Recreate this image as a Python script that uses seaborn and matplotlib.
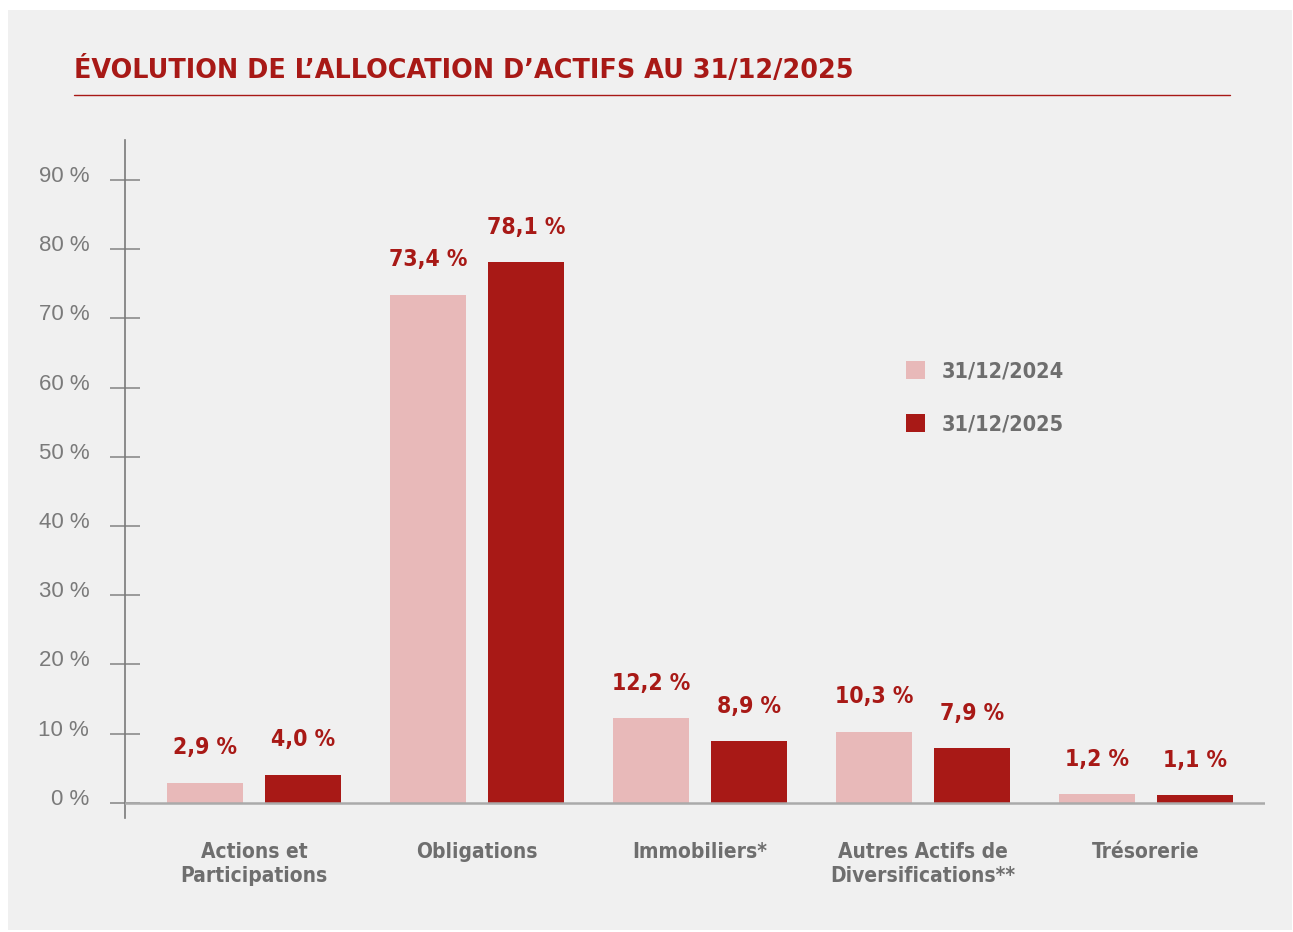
import matplotlib
matplotlib.use("Agg")
import matplotlib.pyplot as plt
import seaborn as sns
import pandas as pd
from matplotlib.patches import Patch, Rectangle
from matplotlib.lines import Line2D
from matplotlib.transforms import ScaledTranslation
from matplotlib.font_manager import FontProperties

# Données
categories = ["Actions et\nParticipations", "Obligations", "Immobiliers*",
              "Autres Actifs de\nDiversifications**", "Trésorerie"]
dates = ["31/12/2024", "31/12/2025"]
valeurs_2024 = [2.9, 73.4, 12.2, 10.3, 1.2]
valeurs_2025 = [4.0, 78.1, 8.9, 7.9, 1.1]
graduations = [0, 10, 20, 30, 40, 50, 60, 70, 80, 90]
titre = "ÉVOLUTION DE L’ALLOCATION D’ACTIFS AU 31/12/2025"

df = pd.DataFrame({
    "categorie": categories * 2,
    "date": [dates[0]] * len(categories) + [dates[1]] * len(categories),
    "valeur": valeurs_2024 + valeurs_2025,
})

ROUGE = "#a81916"
ROSE = "#e8b9b9"
GRIS = "#6e6e6e"


def etroite(taille):
    return FontProperties(family="DejaVu Sans", stretch="condensed",
                          weight="bold", size=taille)


sns.set_theme(style="white")
plt.rcParams["font.family"] = ["Liberation Sans", "DejaVu Sans"]

fig = plt.figure(figsize=(12.93, 9.32), dpi=100, facecolor="white")
fig.add_artist(Rectangle((8 / 1293, 2 / 932), 1284 / 1293, 920 / 932,
                         transform=fig.transFigure, facecolor="#f0f0f0",
                         edgecolor="none", zorder=0))

ax = fig.add_axes([125 / 1293, 1 - 818 / 932, 1140 / 1293, 678 / 932])
ax.set_facecolor("none")

sns.barplot(data=df, x="categorie", y="valeur", hue="date",
            palette=[ROSE, ROUGE], saturation=1, width=0.88, gap=0.224,
            linewidth=0, edgecolor="none", legend=False, ax=ax, zorder=2)

# Étiquettes de valeurs
for cont, vals in zip(ax.containers, [valeurs_2024, valeurs_2025]):
    ax.bar_label(cont, labels=[f"{v:.1f} %".replace(".", ",") for v in vals],
                 padding=17, color=ROUGE, fontproperties=etroite(16.5))

ax.axhline(0, color="#aaaaaa", lw=1.8, zorder=3)

ax.set_xlim(-0.578, 4.534)
ax.set_ylim(-2.2, 95.8)
ax.set_yticks(graduations)
ax.set_yticklabels([f"{g} %" for g in graduations])
ax.tick_params(axis="y", left=True, direction="inout", length=21.6, width=1.2,
               color="#8c8c8c", pad=15, labelsize=16, labelcolor="#7a7a7a")
decalage = ScaledTranslation(0, 6 / 100, fig.dpi_scale_trans)
for lbl in ax.get_yticklabels():
    lbl.set_transform(lbl.get_transform() + decalage)

ax.tick_params(axis="x", bottom=False, length=0, pad=17)
ax.set_xticks(range(len(categories)))
ax.set_xticklabels(categories, fontproperties=etroite(15), color=GRIS,
                   linespacing=1.3, multialignment="center")
ax.set_xlabel("")
ax.set_ylabel("")

for s in ["top", "right", "bottom"]:
    ax.spines[s].set_visible(False)
ax.spines["left"].set_color("#7a7a7a")
ax.spines["left"].set_linewidth(1.2)

# Légende
handles = [Patch(facecolor=c, edgecolor="none", label=d) for c, d in zip([ROSE, ROUGE], dates)]
fig.legend(handles=handles, loc="upper left",
           bbox_to_anchor=(906 / 1293, 1 - 361 / 932), frameon=False,
           handlelength=0.88, handleheight=0.88, handletextpad=0.78,
           labelspacing=1.5, borderpad=0, borderaxespad=0,
           prop=etroite(15.6), labelcolor=GRIS)

# Titre
fig.text(74 / 1293, 1 - 71 / 932, titre, color=ROUGE, fontsize=18.4,
         fontweight="bold", family="DejaVu Sans", va="center", ha="left")
fig.add_artist(Line2D([74 / 1293, 1230 / 1293], [1 - 95 / 932] * 2,
                      transform=fig.transFigure, color=ROUGE, lw=1))

fig.savefig("out.png", dpi=100, facecolor="white")
